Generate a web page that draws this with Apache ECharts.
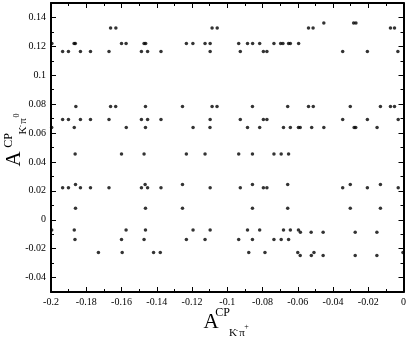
<!DOCTYPE html>
<html>
<head>
    <meta charset="utf-8">
    <title>A_CP scatter</title>
    <script src="https://cdn.jsdelivr.net/npm/echarts@6.0.0/dist/echarts.min.js"></script>
    <style>
        html, body { margin: 0; padding: 0; background: #fff; }
        #chart { width: 409px; height: 338px; }
    </style>
</head>
<body>
<div id="chart"></div>
<script type="text/javascript">
    // y level of each row of points, and the x values found on that row
    var rowY = [0.1361, 0.1327, 0.1219, 0.1164, 0.0783, 0.0694, 0.0639, 0.0455,
                0.0244, 0.0221, 0.0080, -0.0071, -0.0086, -0.0137, -0.0226, -0.0248];

    var xRow1 = [-0.0452, -0.0283, -0.0270];
    var xRow2 = [-0.1662, -0.1632, -0.1086, -0.1057, -0.0539, -0.0513, -0.0074, -0.0051];
    var xRow3 = [-0.1995, -0.1869, -0.1862, -0.1600, -0.1574, -0.1472, -0.1463, -0.1232, -0.1195, -0.1126,
                 -0.1097, -0.0935, -0.0885, -0.0856, -0.0816, -0.0735, -0.0697, -0.0684, -0.0652, -0.0642, -0.0595];
    var xRow4 = [-0.1934, -0.1901, -0.1833, -0.1776, -0.1671, -0.1487, -0.1452, -0.1376, -0.1097, -0.0926,
                 -0.0795, -0.0775, -0.0345, -0.0205, -0.0032];
    var xRow5 = [-0.1859, -0.1662, -0.1633, -0.1464, -0.1254, -0.1086, -0.1058, -0.0857, -0.0657, -0.0539,
                 -0.0512, -0.0302, -0.0131, -0.0074, -0.0051];
    var xRow6 = [-0.1934, -0.1901, -0.1833, -0.1776, -0.1671, -0.1487, -0.1452, -0.1376, -0.1097, -0.0926,
                 -0.0795, -0.0775, -0.0345, -0.0205, -0.0030];
    var xRow7 = [-0.1996, -0.1868, -0.1573, -0.1464, -0.1194, -0.1098, -0.0885, -0.0816, -0.0681, -0.0642,
                 -0.0596, -0.0586, -0.0521, -0.0452, -0.0280, -0.0271, -0.0150];
    var xRow8 = [-0.1863, -0.1600, -0.1472, -0.1232, -0.1126, -0.0935, -0.0857, -0.0735, -0.0694, -0.0652];
    var xRow9 = [-0.1861, -0.1466, -0.1254, -0.0857, -0.0657, -0.0302, -0.0131];
    var xRow10 = [-0.1934, -0.1901, -0.1833, -0.1776, -0.1671, -0.1487, -0.1452, -0.1376, -0.1097, -0.0926,
                  -0.0795, -0.0775, -0.0345, -0.0205, -0.0030];
    var xRow11 = [-0.1861, -0.1464, -0.1254, -0.0857, -0.0657, -0.0302, -0.0131];
    var xRow12 = [-0.1996, -0.1868, -0.1574, -0.1464, -0.1194, -0.1097, -0.0885, -0.0816, -0.0681, -0.0642, -0.0596];
    var xRow13 = [-0.0585, -0.0524, -0.0456, -0.0274, -0.0151];
    var xRow14 = [-0.1864, -0.1600, -0.1472, -0.1232, -0.1126, -0.0935, -0.0857, -0.0735, -0.0694, -0.0652];
    var xRow15 = [-0.1731, -0.1596, -0.1418, -0.1380, -0.0878, -0.0786, -0.0600, -0.0508, -0.0003];
    var xRow16 = [-0.0586, -0.0523, -0.0456, -0.0274, -0.0151];

    var rowsX = [xRow1, xRow2, xRow3, xRow4, xRow5, xRow6, xRow7, xRow8,
                 xRow9, xRow10, xRow11, xRow12, xRow13, xRow14, xRow15, xRow16];

    // labelled ticks on the y axis
    var yMajor = [-0.04, -0.02, 0, 0.02, 0.04, 0.06, 0.08, 0.1, 0.12, 0.14];

    var points = [];
    rowsX.forEach(function (xs, i) {
        xs.forEach(function (x) { points.push([x, rowY[i]]); });
    });

    var serif = '"Liberation Serif", "DejaVu Serif", serif';

    function yLabel(v) {
        var k = Math.round(v * 100);
        if (k % 2 !== 0) return '';
        return String(+(k / 100).toFixed(2));
    }

    function txt(text, x, y, size) {
        return {
            type: 'text', x: x, y: y,
            style: {
                text: text, fill: '#000', font: size + 'px ' + serif,
                align: 'center', verticalAlign: 'middle',
                textAlign: 'center', textVerticalAlign: 'middle'
            }
        };
    }

    var line = { show: true, onZero: false, lineStyle: { color: '#000', width: 2 } };
    var noLine = { show: false, onZero: false };

    var myChart = echarts.init(document.getElementById('chart'));
    myChart.setOption({
        animation: false,
        backgroundColor: '#fff',
        grid: { left: 51, right: 3, top: 3, bottom: 46 },
        xAxis: [
            {
                type: 'value', min: -0.2, max: 0, interval: 0.02, position: 'bottom',
                axisLine: line,
                axisTick: { inside: true, length: 5, lineStyle: { color: '#000' } },
                minorTick: { show: true, splitNumber: 2, length: 3, lineStyle: { color: '#000' } },
                splitLine: { show: false },
                axisLabel: { color: '#000', fontFamily: serif, fontSize: 10, margin: 5 }
            },
            {
                type: 'value', min: -0.2, max: 0, interval: 0.02, position: 'top',
                axisLine: line,
                axisTick: { inside: true, length: 5, lineStyle: { color: '#000' } },
                minorTick: { show: true, splitNumber: 2, length: 3, lineStyle: { color: '#000' } },
                splitLine: { show: false },
                axisLabel: { show: false }
            }
        ],
        yAxis: [
            {
                type: 'value', min: -0.05, max: 0.15, interval: 0.01, position: 'left',
                axisLine: line,
                axisTick: { inside: true, length: 3, lineStyle: { color: '#000' } },
                splitLine: { show: false },
                axisLabel: { color: '#000', fontFamily: serif, fontSize: 10, margin: 5, formatter: yLabel }
            },
            {
                type: 'value', min: -0.05, max: 0.15, position: 'left',
                axisLine: noLine,
                axisTick: { inside: true, length: 5, customValues: yMajor, lineStyle: { color: '#000' } },
                splitLine: { show: false },
                axisLabel: { show: false }
            },
            {
                type: 'value', min: -0.05, max: 0.15, interval: 0.01, position: 'right',
                axisLine: line,
                axisTick: { inside: true, length: 3, lineStyle: { color: '#000' } },
                splitLine: { show: false },
                axisLabel: { show: false }
            },
            {
                type: 'value', min: -0.05, max: 0.15, position: 'right',
                axisLine: noLine,
                axisTick: { inside: true, length: 5, customValues: yMajor, lineStyle: { color: '#000' } },
                splitLine: { show: false },
                axisLabel: { show: false }
            }
        ],
        graphic: [
            // x axis title  A^CP_{K-pi+}
            txt('A', 211, 322, 21),
            txt('CP', 222.5, 313, 12),
            txt('K', 233, 333, 11),
            txt('-', 237, 330, 7),
            txt('\u03c0', 242, 333, 11),
            txt('+', 246.5, 326.5, 8),
            // y axis title  A^CP_{K-pi0}, group turned so it reads bottom to top
            {
                type: 'group', x: 0, y: 338, rotation: Math.PI / 2,
                children: [
                    txt('A', 179, 14, 21),
                    txt('CP', 197.5, 9, 12),
                    txt('K', 207.5, 23, 11),
                    txt('-', 212, 20, 7),
                    txt('\u03c0', 217, 23, 11),
                    txt('0', 222.5, 16.5, 8)
                ]
            }
        ],
        series: [
            {
                type: 'scatter',
                xAxisIndex: 0, yAxisIndex: 0,
                symbol: 'circle', symbolSize: 3.5,
                itemStyle: { color: '#000' },
                data: points
            }
        ]
    });
</script>
</body>
</html>
